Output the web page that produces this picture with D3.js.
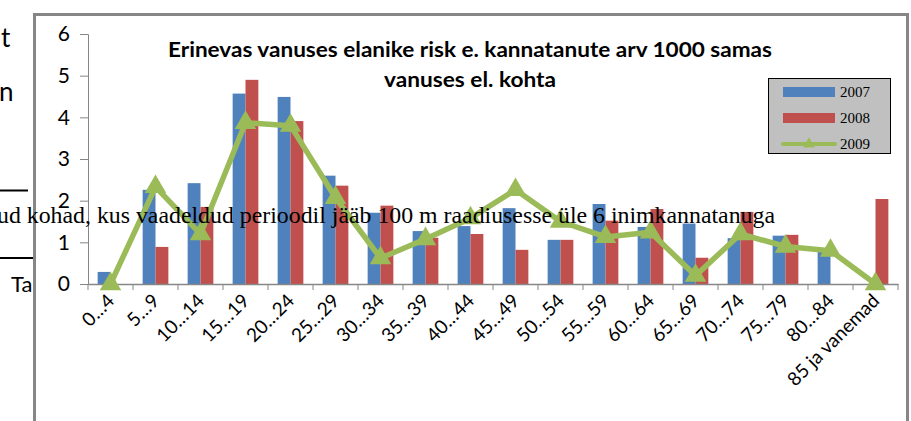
<!DOCTYPE html>
<html>
<head>
<meta charset="utf-8">
<script src="https://cdn.jsdelivr.net/npm/d3@7"></script>
<style>
  body { margin: 0; background: #fff; }
  svg { display: block; }
</style>
</head>
<body>
<div id="chart"></div>
<script>
const categories = ['0…4', '5…9', '10…14', '15…19', '20…24', '25…29', '30…34', '35…39', '40…44',
  '45…49', '50…54', '55…59', '60…64', '65…69', '70…74', '75…79', '80…84', '85 ja vanemad']
const values2007 = [0.29, 2.26, 2.42, 4.57, 4.49, 2.6, 1.71, 1.27, 1.39, 1.82, 1.06, 1.92, 1.37, 1.45, 1.1, 1.16, 0.78, 0]
const values2008 = [0, 0.89, 1.85, 4.9, 3.91, 2.36, 1.88, 1.11, 1.2, 0.82, 1.06, 1.52, 1.8, 0.63, 1.73, 1.18, 0, 2.04]
const values2009 = [0, 2.33, 1.2, 3.87, 3.8, 2.07, 0.62, 1.08, 1.58, 2.26, 1.5, 1.13, 1.24, 0.2, 1.2, 0.9, 0.8, 0]
const yTicks = [0, 1, 2, 3, 4, 5, 6]
const seriesNames = ['2007', '2008', '2009']
const titleLines = ['Erinevas vanuses elanike risk e. kannatanute arv 1000 samas', 'vanuses el. kohta']
const titleWidths = [604, 172]

const W = 911, H = 421
const plot = {left: 88, right: 898, top: 34, bottom: 284}
const colors = {b: '#4f81bd', r: '#c0504d', g: '#9bbb59'}

const svg = d3.select('#chart').append('svg')
  .attr('width', W)
  .attr('height', H)

// stray text from the surrounding document
svg.append('text').attr('x', 1).attr('y', 47)
  .attr('font-family', 'Lato').attr('font-size', 26).text('t')
svg.append('text').attr('x', -1).attr('y', 101)
  .attr('font-family', 'Lato').attr('font-size', 26).text('n')
svg.append('line').attr('x1', 0).attr('x2', 28).attr('y1', 190.5).attr('y2', 190.5)
  .attr('stroke', '#000').attr('stroke-width', 2)
svg.append('line').attr('x1', 0).attr('x2', 33).attr('y1', 258).attr('y2', 258)
  .attr('stroke', '#000').attr('stroke-width', 2)
svg.append('text').attr('x', 11).attr('y', 292)
  .attr('font-family', 'Lato').attr('font-size', 22).text('Ta')

// chart frame
svg.append('rect')
  .attr('x', 34.5).attr('y', 14.5)
  .attr('width', 873).attr('height', 430)
  .attr('fill', '#fff')
  .attr('stroke', '#868686')
  .attr('stroke-width', 3)

const x = d3.scaleBand()
  .domain(categories)
  .range([plot.left, plot.right])
const y = d3.scaleLinear()
  .domain([0, 6])
  .range([plot.bottom, plot.top])
const bw = x.bandwidth() / 3.5

const g = svg.append('g')

// y axis
const yAxis = d3.axisLeft(y).tickValues(yTicks).tickSize(8).tickFormat(d3.format('d'))
const ya = g.append('g')
  .attr('transform', 'translate(' + plot.left + ',0)')
  .call(yAxis)
ya.selectAll('path, line').attr('stroke', '#868686')
ya.selectAll('text')
  .attr('font-family', 'Lato')
  .attr('font-size', 21)
  .attr('fill', '#000')
  .attr('x', -18)

// bars
const bars = g.append('g')
bars.selectAll('rect.b07').data(categories).join('rect')
  .attr('x', d => x(d) + x.bandwidth() / 2 - bw)
  .attr('width', bw)
  .attr('y', (d, i) => y(values2007[i]))
  .attr('height', (d, i) => y(0) - y(values2007[i]))
  .attr('fill', colors.b)
bars.selectAll('rect.b08').data(categories).join('rect')
  .attr('x', d => x(d) + x.bandwidth() / 2)
  .attr('width', bw)
  .attr('y', (d, i) => y(values2008[i]))
  .attr('height', (d, i) => y(0) - y(values2008[i]))
  .attr('fill', colors.r)

// x axis
const xAxis = d3.axisBottom(x).tickSize(0).tickFormat('')
const xa = g.append('g')
  .attr('transform', 'translate(0,' + plot.bottom + ')')
  .call(xAxis)
xa.select('path').attr('stroke', '#868686').attr('stroke-width', 1.5)
xa.selectAll('.tick').remove()
const edges = categories.map(d => x(d)).concat([plot.right])
xa.selectAll('line.edge').data(edges).join('line')
  .attr('x1', d => d).attr('x2', d => d)
  .attr('y1', 0).attr('y2', 6)
  .attr('stroke', '#868686')
xa.selectAll('text.lab').data(categories).join('text')
  .attr('transform', d => 'translate(' + (x(d) + x.bandwidth() / 2 + 5) + ',' + 18 + ') rotate(-45)')
  .attr('text-anchor', 'end')
  .attr('font-family', 'Lato')
  .attr('font-size', 19)
  .attr('fill', '#000')
  .text(d => d)

// 2009 line
const cx = d => x(d) + x.bandwidth() / 2
const line = d3.line()
  .x(d => cx(d))
  .y((d, i) => y(values2009[i]))
g.append('path')
  .datum(categories)
  .attr('fill', 'none')
  .attr('stroke', colors.g)
  .attr('stroke-width', 5.5)
  .attr('stroke-linejoin', 'round')
  .attr('d', line)
const tri = d3.symbol().type(d3.symbolTriangle).size(200)
g.selectAll('path.mk').data(categories).join('path')
  .attr('transform', (d, i) => 'translate(' + cx(d) + ',' + y(values2009[i]) + ')')
  .attr('d', tri)
  .attr('fill', colors.g)

// title
svg.append('g').selectAll('text').data(titleLines).join('text')
  .attr('x', 470)
  .attr('y', (d, i) => 57 + i * 30)
  .attr('text-anchor', 'middle')
  .attr('font-family', 'Lato').attr('font-weight', 'bold')
  .attr('font-size', 20)
  .attr('textLength', (d, i) => titleWidths[i])
  .attr('lengthAdjust', 'spacingAndGlyphs')
  .text(d => d)

// legend
const lg = svg.append('g').attr('transform', 'translate(768,78)')
lg.append('rect')
  .attr('x', 0.5).attr('y', 0.5)
  .attr('width', 122).attr('height', 75)
  .attr('fill', '#c0c0c0')
  .attr('stroke', '#000')
const legendColors = [colors.b, colors.r, colors.g]
seriesNames.forEach((s, i) => {
  const ly = 14 + i * 26
  if (i < 2) {
    lg.append('rect').attr('x', 15).attr('y', ly - 5).attr('width', 52).attr('height', 10)
      .attr('fill', legendColors[i])
  } else {
    lg.append('line').attr('x1', 15).attr('x2', 67).attr('y1', ly).attr('y2', ly)
      .attr('stroke', colors.g).attr('stroke-width', 4).attr('stroke-linecap', 'round')
    lg.append('path').attr('transform', 'translate(41,' + ly + ')')
      .attr('d', d3.symbol().type(d3.symbolTriangle).size(60)).attr('fill', colors.g)
  }
  lg.append('text').attr('x', 72).attr('y', ly + 5)
    .attr('font-family', 'Liberation Serif').attr('font-size', 15)
    .attr('fill', '#000')
    .text(s)
})

// overlapping document text
svg.append('text')
  .attr('x', -3).attr('y', 223)
  .attr('font-family', 'Liberation Serif')
  .attr('font-size', 23)
  .attr('fill', '#000')
  .attr('textLength', 778)
  .attr('lengthAdjust', 'spacingAndGlyphs')
  .text('ud kohad, kus vaadeldud perioodil jääb 100 m raadiusesse üle 6 inimkannatanuga')
</script>
</body>
</html>
